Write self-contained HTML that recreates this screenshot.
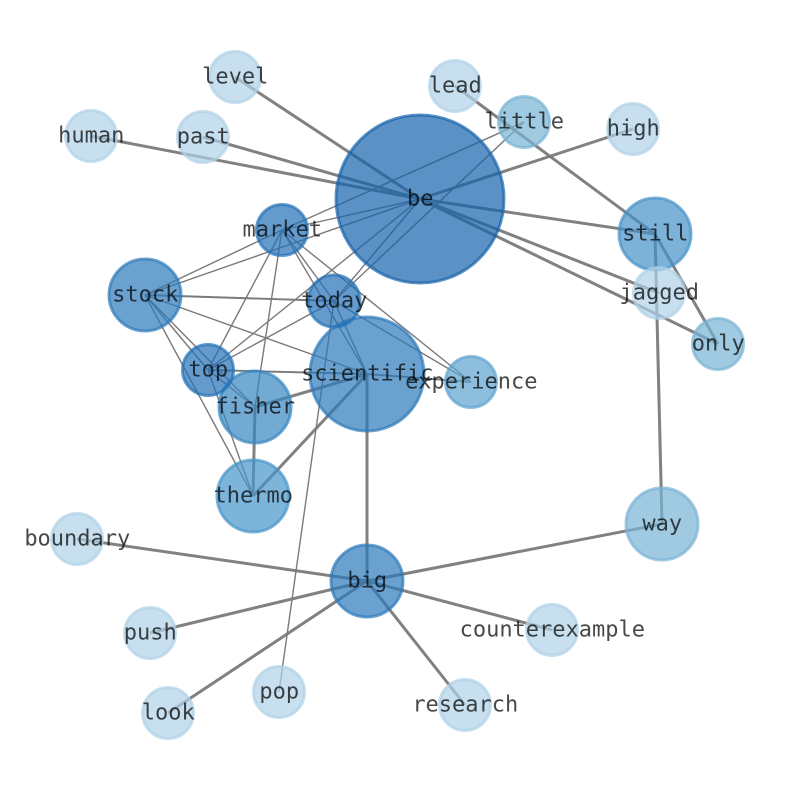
<!DOCTYPE html>
<html>
<head>
<meta charset="utf-8">
<style>
html,body{margin:0;padding:0;background:#fff;}
svg{display:block;}
text{font-family:"DejaVu Sans Mono","Liberation Mono",monospace;font-size:22px;fill:#000;fill-opacity:.72;text-anchor:middle;}
.k{stroke:#7a7a7a;stroke-width:3;fill:none;stroke-opacity:.95;}
.t{stroke:#7a7a7a;stroke-width:1.4;fill:none;}
.m{stroke:#7a7a7a;stroke-width:1.9;fill:none;}
circle{stroke-width:3;fill-opacity:.7;stroke-opacity:.7;}
</style>
</head>
<body>
<svg width="794" height="790" viewBox="0 0 794 790" xmlns="http://www.w3.org/2000/svg">
<!-- thick edges -->
<line class="k" x1="235" y1="77" x2="420" y2="199"/>
<line class="k" x1="91" y1="136" x2="420" y2="199"/>
<line class="k" x1="203" y1="137" x2="420" y2="199"/>
<line class="k" x1="633" y1="129" x2="420" y2="199"/>
<line class="k" x1="655" y1="234" x2="420" y2="199"/>
<line class="k" x1="659" y1="293" x2="420" y2="199"/>
<line class="k" x1="718" y1="344" x2="420" y2="199"/>
<line class="k" x1="455" y1="86" x2="655" y2="234"/>
<line class="k" x1="655" y1="234" x2="718" y2="344"/>
<line class="k" x1="655" y1="234" x2="662" y2="524"/>
<line class="k" x1="255" y1="407" x2="367" y2="374"/>
<line class="k" x1="255" y1="407" x2="253" y2="496"/>
<line class="k" x1="253" y1="496" x2="367" y2="374"/>
<line class="k" x1="367" y1="374" x2="367" y2="581"/>
<line class="k" x1="77" y1="539" x2="367" y2="581"/>
<line class="k" x1="662" y1="524" x2="367" y2="581"/>
<line class="k" x1="150" y1="633" x2="367" y2="581"/>
<line class="k" x1="168" y1="713" x2="367" y2="581"/>
<line class="k" x1="465" y1="705" x2="367" y2="581"/>
<line class="k" x1="552" y1="630" x2="367" y2="581"/>
<!-- medium -->
<line class="m" x1="208" y1="370" x2="367" y2="374"/>
<line class="m" x1="145" y1="295" x2="334" y2="301"/>
<line class="m" x1="367" y1="374" x2="471" y2="382"/>
<!-- thin edges -->
<line class="t" x1="282" y1="230" x2="420" y2="199"/>
<line class="t" x1="282" y1="230" x2="524" y2="122"/>
<line class="t" x1="334" y1="301" x2="524" y2="122"/>
<line class="t" x1="334" y1="301" x2="420" y2="199"/>
<line class="t" x1="145" y1="295" x2="420" y2="199"/>
<line class="t" x1="208" y1="370" x2="420" y2="199"/>
<line class="t" x1="145" y1="295" x2="282" y2="230"/>
<line class="t" x1="145" y1="295" x2="367" y2="374"/>
<line class="t" x1="145" y1="295" x2="208" y2="370"/>
<line class="t" x1="145" y1="295" x2="255" y2="407"/>
<line class="t" x1="145" y1="295" x2="253" y2="496"/>
<line class="t" x1="208" y1="370" x2="282" y2="230"/>
<line class="t" x1="208" y1="370" x2="334" y2="301"/>
<line class="t" x1="208" y1="370" x2="255" y2="407"/>
<line class="t" x1="208" y1="370" x2="253" y2="496"/>
<line class="t" x1="282" y1="230" x2="334" y2="301"/>
<line class="t" x1="282" y1="230" x2="367" y2="374"/>
<line class="t" x1="282" y1="230" x2="471" y2="382"/>
<line class="t" x1="282" y1="230" x2="255" y2="407"/>
<line class="t" x1="334" y1="301" x2="367" y2="374"/>
<line class="t" x1="334" y1="301" x2="471" y2="382"/>
<line class="t" x1="334" y1="301" x2="279" y2="692"/>
<!-- nodes -->
<g>
<circle cx="420" cy="199" r="84" fill="#1662ab" stroke="#1662ab"/>
<circle cx="367" cy="374" r="57" fill="#2c79ba" stroke="#2c79ba"/>
<circle cx="655" cy="234" r="36" fill="#4591c7" stroke="#4591c7"/>
<circle cx="145" cy="295" r="36" fill="#2c79ba" stroke="#2c79ba"/>
<circle cx="255" cy="407" r="36" fill="#3686c1" stroke="#3686c1"/>
<circle cx="253" cy="496" r="36" fill="#4694cb" stroke="#4694cb"/>
<circle cx="662" cy="524" r="36" fill="#77b3d4" stroke="#77b3d4"/>
<circle cx="367" cy="581" r="36" fill="#2c79ba" stroke="#2c79ba"/>
<circle cx="282" cy="230" r="25.5" fill="#2270b7" stroke="#2270b7"/>
<circle cx="334" cy="301" r="26" fill="#2270b7" stroke="#2270b7"/>
<circle cx="208" cy="370" r="25.5" fill="#2270b7" stroke="#2270b7"/>
<circle cx="524" cy="122" r="25.5" fill="#77b3d4" stroke="#77b3d4"/>
<circle cx="718" cy="344" r="25.5" fill="#77b3d4" stroke="#77b3d4"/>
<circle cx="471" cy="382" r="25.5" fill="#5ea3cf" stroke="#5ea3cf"/>
<circle cx="455" cy="86" r="25.5" fill="#afd1e7" stroke="#afd1e7"/>
<circle cx="633" cy="129" r="25.5" fill="#afd1e7" stroke="#afd1e7"/>
<circle cx="235" cy="77" r="25.5" fill="#afd1e7" stroke="#afd1e7"/>
<circle cx="91" cy="136" r="25.5" fill="#afd1e7" stroke="#afd1e7"/>
<circle cx="203" cy="137" r="25.5" fill="#afd1e7" stroke="#afd1e7"/>
<circle cx="659" cy="293" r="25.5" fill="#afd1e7" stroke="#afd1e7"/>
<circle cx="77" cy="539" r="25.5" fill="#afd1e7" stroke="#afd1e7"/>
<circle cx="150" cy="633" r="25.5" fill="#afd1e7" stroke="#afd1e7"/>
<circle cx="168" cy="713" r="25.5" fill="#afd1e7" stroke="#afd1e7"/>
<circle cx="279" cy="692" r="25.5" fill="#afd1e7" stroke="#afd1e7"/>
<circle cx="465" cy="705" r="25.5" fill="#afd1e7" stroke="#afd1e7"/>
<circle cx="552" cy="630" r="25.5" fill="#afd1e7" stroke="#afd1e7"/>
</g>
<!-- labels -->
<g transform="translate(0.3,0.7)">
<text x="420" y="205">be</text>
<text x="367" y="380">scientific</text>
<text x="655" y="240">still</text>
<text x="145" y="301">stock</text>
<text x="255" y="413">fisher</text>
<text x="253" y="502">thermo</text>
<text x="662" y="530">way</text>
<text x="367" y="587">big</text>
<text x="282" y="236">market</text>
<text x="334" y="307">today</text>
<text x="208" y="376">top</text>
<text x="524" y="128">little</text>
<text x="718" y="350">only</text>
<text x="471" y="388">experience</text>
<text x="455" y="92">lead</text>
<text x="633" y="135">high</text>
<text x="235" y="83">level</text>
<text x="91" y="142">human</text>
<text x="203" y="143">past</text>
<text x="659" y="299">jagged</text>
<text x="77" y="545">boundary</text>
<text x="150" y="639">push</text>
<text x="168" y="719">look</text>
<text x="279" y="698">pop</text>
<text x="465" y="711">research</text>
<text x="552" y="636">counterexample</text>
</g>
</svg>
</body>
</html>
